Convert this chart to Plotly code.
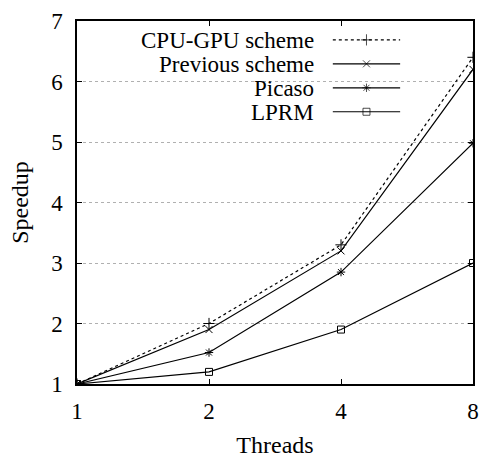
import plotly.graph_objects as go

threads = [1, 2, 4, 8]
series_names = ["CPU-GPU scheme", "Previous scheme", "Picaso", "LPRM"]
cpu_gpu = [1.0, 2.0, 3.3, 6.4]
previous = [1.0, 1.9, 3.2, 6.2]
picaso = [1.0, 1.52, 2.85, 4.98]
lprm = [1.0, 1.2, 1.9, 3.0]

values = [cpu_gpu, previous, picaso, lprm]
symbols = ["cross-thin-open", "x-thin-open", "asterisk-open", "square-open"]
dashes = ["dot", "solid", "solid", "solid"]
sizes = [8, 7, 7, 7]

FONT = "Times New Roman, Liberation Serif, DejaVu Serif, serif"
fig = go.Figure()

for name, ys, sym, dash, sz in zip(series_names, values, symbols, dashes, sizes):
    fig.add_trace(go.Scatter(
        x=threads, y=ys, name=name, mode="lines+markers",
        line=dict(color="black", width=1.2, dash=dash),
        marker=dict(symbol=sym, size=sz, color="black",
                    line=dict(color="black", width=1)),
        showlegend=False,
    ))

# hand-drawn key: text on the left, sample line with marker on the right
key_rows = [0.948, 0.882, 0.816, 0.750]
key_x = [0.646, 0.731, 0.816]
for name, ky, sym, dash, sz in zip(series_names, key_rows, symbols, dashes, sizes):
    fig.add_trace(go.Scatter(
        x=key_x, y=[ky] * 3, mode="lines+markers", xaxis="x2", yaxis="y2",
        line=dict(color="black", width=1.2, dash=dash),
        marker=dict(symbol=sym, size=[0, sz, 0], color="black",
                    line=dict(color="black", width=1)),
        showlegend=False, hoverinfo="skip",
    ))
    fig.add_annotation(x=0.603, y=ky, xref="paper", yref="paper",
                       text=name, showarrow=False, xanchor="right",
                       yanchor="middle", yshift=-1,
                       font=dict(family=FONT, size=23, color="black"))

fig.add_shape(type="rect", xref="paper", yref="paper",
              x0=0.045, x1=0.854, y0=0.713, y1=0.985,
              fillcolor="white", line=dict(width=0), layer="between")

axis_common = dict(
    showline=True, linecolor="black", linewidth=1.5, mirror="ticks",
    ticks="inside", ticklen=5, tickwidth=1, tickcolor="black",
    zeroline=False, automargin=False,
    tickfont=dict(family=FONT, size=23, color="black"),
)

fig.update_layout(
    width=479, height=458,
    margin=dict(l=77, r=6, t=21, b=74),
    paper_bgcolor="white", plot_bgcolor="white",
    font=dict(family=FONT),
    xaxis=dict(type="log", tickvals=threads, ticktext=[str(t) for t in threads],
               range=[0, 0.90309], showgrid=False, ticklabelstandoff=6,
               title=dict(text="Threads", font=dict(family=FONT, size=24, color="black"), standoff=18),
               **axis_common),
    yaxis=dict(range=[1, 7], dtick=1, showgrid=True, gridcolor="#b0b0b0",
               griddash="dot", gridwidth=1, ticklabelstandoff=8,
               title=dict(text="Speedup", font=dict(family=FONT, size=24, color="black"), standoff=16),
               **axis_common),
    xaxis2=dict(overlaying="x", range=[0, 1], visible=False, fixedrange=True),
    yaxis2=dict(overlaying="y", range=[0, 1], visible=False, fixedrange=True),
)

fig.write_html("out.html")
